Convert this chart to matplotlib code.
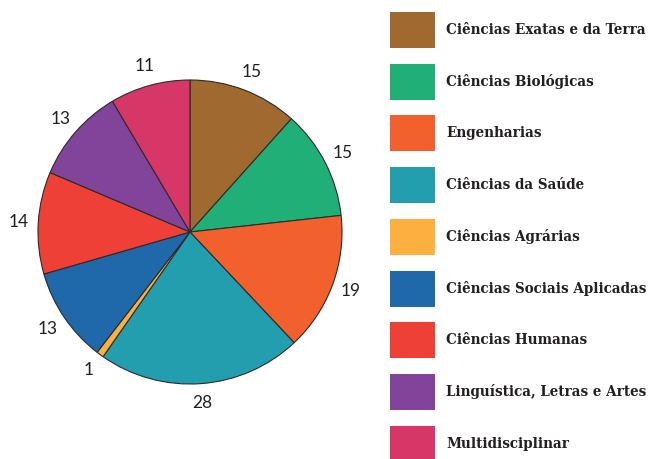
import matplotlib
matplotlib.use('Agg')
import matplotlib.pyplot as plt
from matplotlib.patches import Rectangle

areas = ['Ciências Exatas e da Terra', 'Ciências Biológicas', 'Engenharias',
         'Ciências da Saúde', 'Ciências Agrárias', 'Ciências Sociais Aplicadas',
         'Ciências Humanas', 'Linguística, Letras e Artes', 'Multidisciplinar']
counts = [15, 15, 19, 28, 1, 13, 14, 13, 11]
colors = ['#A0692F', '#20B077', '#F2612D', '#229EAF', '#FDB03F',
          '#1F69AA', '#EE4037', '#81449A', '#D63767']

W, H = 651, 459
fig = plt.figure(figsize=(W / 100, H / 100), dpi=100)

# pie: centre (190, 232) px, radius 152 px
cx, cy, r = 190, 232, 152
ax = fig.add_axes([(cx - r) / W, (H - cy - r) / H, 2 * r / W, 2 * r / H])
wedges, texts = ax.pie(counts, colors=colors, startangle=90, counterclock=False,
                       labels=[str(c) for c in counts], labeldistance=1.13,
                       wedgeprops=dict(edgecolor='#2b2b2b', linewidth=0.8),
                       textprops=dict(fontsize=12.5, color='#231F20', family='Lato'))
for t in texts:
    t.set_ha('center')
    t.set_va('center')
ax.set_xlim(-1, 1)
ax.set_ylim(-1, 1)
ax.set_aspect('equal')
ax.axis('off')

# legend as its own axes
lax = fig.add_axes([0, 0, 1, 1])
lax.set_xlim(0, W)
lax.set_ylim(H, 0)
lax.axis('off')
for i, (name, col) in enumerate(zip(areas, colors)):
    y = 30 + i * 51.7
    lax.add_patch(Rectangle((390, y - 18), 45, 36, facecolor=col, edgecolor='none'))
    lax.text(446, y, name, va='center', ha='left', fontsize=10.8, fontweight='bold',
             family='DejaVu Serif', stretch='condensed', color='#231F20')

fig.savefig('out.png', dpi=100)
